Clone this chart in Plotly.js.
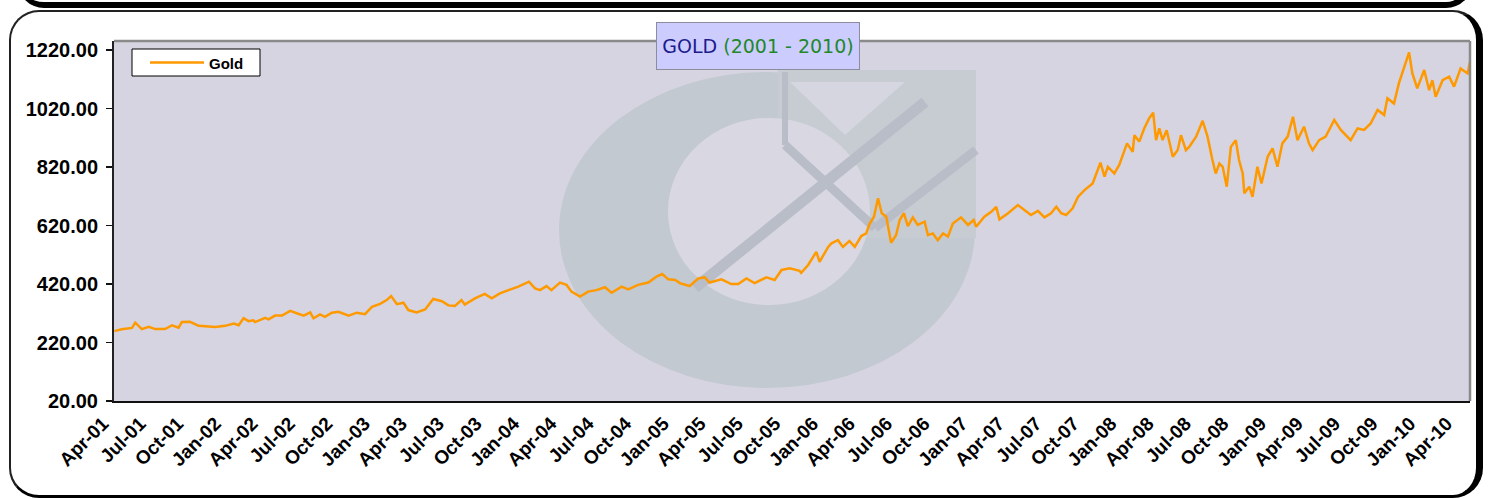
<!DOCTYPE html>
<html>
<head>
<meta charset="utf-8">
<script src="https://cdn.plot.ly/plotly-3.0.1.min.js"></script>
<style>
  html, body { margin:0; padding:0; background:#ffffff; width:1489px; height:499px; overflow:hidden; }
  #topbar { position:absolute; left:18px; top:-30px; width:1446px; height:30px; border:2px solid #111; border-bottom:6px solid #000; border-right:6px solid #000; border-radius:0 0 26px 26px; }
  #frame { position:absolute; left:9px; top:10px; width:1465px; height:483px; border:2px solid #222; border-right:7px solid #000; border-bottom:3px solid #000; border-radius:30px; }
  #chart { position:absolute; left:0; top:0; width:1489px; height:499px; }
</style>
</head>
<body>
<div id="topbar"></div>
<div id="frame"></div>
<div id="chart"></div>
<script>
// ---- data ----
const goldDates = [
"2001-04-02","2001-04-20","2001-05-15","2001-05-23","2001-06-08","2001-06-25","2001-07-11","2001-08-04","2001-08-21","2001-09-06",
"2001-09-14","2001-10-04","2001-10-25","2001-11-18","2001-12-05","2001-12-29",
"2002-01-19","2002-01-31","2002-02-12","2002-02-24","2002-03-08","2002-03-12","2002-04-06","2002-04-14","2002-04-30","2002-05-17",
"2002-06-06","2002-06-22","2002-07-09","2002-07-25","2002-08-02","2002-08-18","2002-08-30","2002-09-16","2002-10-02","2002-10-27",
"2002-11-16","2002-12-06","2002-12-23",
"2003-01-12","2003-01-28","2003-02-08","2003-02-22","2003-03-10","2003-03-22","2003-04-11","2003-05-02","2003-05-22","2003-06-12",
"2003-06-28","2003-07-14","2003-07-30","2003-08-07","2003-09-01","2003-09-25","2003-10-12","2003-11-01","2003-11-22","2003-12-16",
"2004-01-11","2004-01-26","2004-02-07","2004-02-23","2004-03-06","2004-03-27","2004-04-12","2004-04-24","2004-05-15","2004-06-04",
"2004-06-24","2004-07-15","2004-07-31","2004-08-25","2004-09-10","2004-10-04","2004-10-29","2004-11-18","2004-12-02","2004-12-17",
"2005-01-03","2005-01-14","2005-02-07","2005-02-28","2005-03-16","2005-03-28","2005-04-26","2005-05-20","2005-06-06","2005-06-26",
"2005-07-16","2005-08-14","2005-09-03","2005-09-20","2005-10-10","2005-11-03","2005-11-07","2005-11-24","2005-12-14","2005-12-22",
"2006-01-12","2006-01-20","2006-02-05","2006-02-17","2006-03-05","2006-03-18","2006-04-03","2006-04-15","2006-04-23","2006-05-04",
"2006-05-14","2006-05-23","2006-06-03","2006-06-15","2006-06-27","2006-07-06","2006-07-16","2006-07-26","2006-08-07","2006-08-19",
"2006-09-05","2006-09-13","2006-09-25","2006-10-07","2006-10-20","2006-11-01","2006-11-13","2006-12-03","2006-12-20",
"2007-01-03","2007-01-09","2007-01-29","2007-02-15","2007-02-27","2007-03-07","2007-03-28","2007-04-21","2007-05-07","2007-05-23",
"2007-06-09","2007-06-25","2007-07-11","2007-07-24","2007-08-05","2007-08-17","2007-09-02","2007-09-15","2007-10-01","2007-10-21",
"2007-11-09","2007-11-19","2007-11-27","2007-12-13","2007-12-25",
"2008-01-13","2008-01-27","2008-01-31","2008-02-12","2008-02-24","2008-03-07","2008-03-17","2008-03-24","2008-04-01","2008-04-09",
"2008-04-19","2008-05-04","2008-05-16","2008-05-24","2008-06-05","2008-06-13","2008-06-22","2008-06-30","2008-07-16","2008-07-28",
"2008-08-09","2008-08-17","2008-08-26","2008-09-03","2008-09-13","2008-09-23","2008-10-05","2008-10-13","2008-10-22","2008-10-26",
"2008-11-07","2008-11-15","2008-11-27","2008-12-07","2008-12-22",
"2009-01-03","2009-01-15","2009-01-27","2009-02-09","2009-02-17","2009-02-22","2009-03-05","2009-03-21","2009-04-02","2009-04-11",
"2009-04-27","2009-05-13","2009-06-03","2009-06-19","2009-07-13","2009-07-30","2009-08-15","2009-08-31","2009-09-17","2009-10-03",
"2009-10-11","2009-10-27","2009-11-08","2009-11-21","2009-12-03","2009-12-11","2009-12-23",
"2010-01-09","2010-01-21","2010-01-29","2010-02-06","2010-02-23","2010-03-11","2010-03-23","2010-04-08","2010-04-25","2010-05-01"
];
const goldPrices = [
259,265,270,288,266,274,266,266,279,271,
290,291,277,276,273,277,
285,279,303,293,296,290,304,299,312,312,
328,320,312,323,303,316,308,322,325,312,
322,317,342,
352,365,379,351,356,331,323,333,369,361,
347,345,365,350,371,386,371,388,399,411,
428,405,399,413,399,425,417,394,377,394,
399,409,390,411,402,417,425,445,454,436,
434,423,413,439,443,425,436,420,420,439,
423,443,434,468,474,465,458,485,530,496,
547,559,570,547,567,547,584,593,625,650,
713,662,650,561,587,639,662,618,648,622,
633,587,593,570,593,582,627,648,622,
639,616,650,667,684,641,662,690,673,656,
670,648,662,684,662,656,679,718,741,764,
835,787,821,798,827,
901,872,929,907,952,986,1006,912,952,912,
946,855,878,929,878,889,907,924,978,924,
844,798,832,821,753,889,912,844,798,730,
753,718,821,764,855,
884,821,901,924,964,992,912,958,901,878,
912,924,981,947,912,952,947,969,1015,998,
1055,1037,1106,1163,1212,1140,1089,
1152,1083,1117,1060,1117,1129,1095,1157,1140,1180
];
const seriesName = "Gold";
const yTickValues = [20, 220, 420, 620, 820, 1020, 1220];
const yTickLabels = ["20.00","220.00","420.00","620.00","820.00","1020.00","1220.00"];
const xTickDates = [
"2001-04-01","2001-07-01","2001-10-01","2002-01-01","2002-04-01","2002-07-01","2002-10-01","2003-01-01","2003-04-01","2003-07-01",
"2003-10-01","2004-01-01","2004-04-01","2004-07-01","2004-10-01","2005-01-01","2005-04-01","2005-07-01","2005-10-01","2006-01-01",
"2006-04-01","2006-07-01","2006-10-01","2007-01-01","2007-04-01","2007-07-01","2007-10-01","2008-01-01","2008-04-01","2008-07-01",
"2008-10-01","2009-01-01","2009-04-01","2009-07-01","2009-10-01","2010-01-01","2010-04-01"
];
const xTickLabels = [
"Apr-01","Jul-01","Oct-01","Jan-02","Apr-02","Jul-02","Oct-02","Jan-03","Apr-03","Jul-03",
"Oct-03","Jan-04","Apr-04","Jul-04","Oct-04","Jan-05","Apr-05","Jul-05","Oct-05","Jan-06",
"Apr-06","Jul-06","Oct-06","Jan-07","Apr-07","Jul-07","Oct-07","Jan-08","Apr-08","Jul-08",
"Oct-08","Jan-09","Apr-09","Jul-09","Oct-09","Jan-10","Apr-10"
];
const titleMain = "GOLD";
const titleSub = "(2001 - 2010)";

// ---- layout helpers (pixel -> paper) ----
const L = 114, R = 1470, T = 41, B = 401;
const px = x => (x - L) / (R - L);
const py = y => (B - y) / (B - T);
const FONT = 'Liberation Sans, Arial, sans-serif';
const ORANGE = '#FF9900';

const wmRing = 'rgb(195,201,209)';
const wmHole = 'rgb(217,216,226)';
const wmDark = 'rgb(184,189,199)';
const P = {xref:'paper', yref:'paper'};
const shapes = [
  // watermark logo
  {...P, type:'circle', layer:'below', x0:px(559), x1:px(975), y0:py(388), y1:py(72), fillcolor:wmRing, line:{width:0}},
  {...P, type:'rect', layer:'below', x0:px(778), x1:px(976), y0:py(238), y1:py(70), fillcolor:'rgb(199,204,211)', line:{width:0}},
  {...P, type:'circle', layer:'below', x0:px(668), x1:px(870), y0:py(305), y1:py(118), fillcolor:wmHole, line:{width:0}},
  {...P, type:'path', layer:'below',
    path:`M${px(790)},${py(82)} L${px(905)},${py(82)} L${px(845)},${py(135)} Z`, fillcolor:'rgb(214,214,224)', line:{width:0}},
  {...P, type:'line', layer:'below', x0:px(695), y0:py(288), x1:px(925), y1:py(102), line:{color:wmDark, width:11}},
  {...P, type:'line', layer:'below', x0:px(785), y0:py(145), x1:px(875), y1:py(228), line:{color:wmDark, width:9}},
  {...P, type:'line', layer:'below', x0:px(875), y0:py(228), x1:px(976), y1:py(150), line:{color:wmDark, width:9}},
  {...P, type:'line', layer:'below', x0:px(785), y0:py(145), x1:px(785), y1:py(72), line:{color:wmDark, width:6}},
  // plot frame: top & right grey edges
  {...P, type:'line', x0:0, y0:1, x1:1, y1:1, line:{color:'#8a8a8a', width:2.5}},
  {...P, type:'line', x0:1, y0:0, x1:1, y1:1, line:{color:'#8a8a8a', width:2.5}},
  // legend box + sample line
  {...P, type:'rect', x0:px(132), x1:px(260), y0:py(76), y1:py(49), fillcolor:'#ffffff', line:{color:'#000', width:1}},
  {...P, type:'line', x0:px(150), x1:px(204), y0:py(62.5), y1:py(62.5), line:{color:ORANGE, width:2.5}}
];

const trace = {
  type:'scatter', mode:'lines', name:seriesName,
  x: goldDates, y: goldPrices,
  line:{color:ORANGE, width:2.5}
};

const layout = {
  width:1489, height:499,
  margin:{l:L, r:1489-R, t:T, b:499-B, pad:0},
  paper_bgcolor:'rgba(0,0,0,0)',
  plot_bgcolor:'rgb(214,212,224)',
  showlegend:false,
  xaxis:{type:'date', range:['2001-04-01','2010-05-01'], tickmode:'array', tickvals:xTickDates, ticktext:xTickLabels,
         tickangle:-45, ticks:'', showgrid:false, zeroline:false, showline:true, linecolor:'#111', linewidth:2,
         tickfont:{family:FONT, size:19, color:'#000', weight:'bold'}, automargin:false, ticklabelstandoff:2, ticklabelshift:-11},
  yaxis:{range:[20,1251], tickmode:'array', tickvals:yTickValues, ticktext:yTickLabels,
         ticks:'outside', ticklen:6, tickwidth:1.5, tickcolor:'#111', showgrid:false, zeroline:false, showline:true, linecolor:'#222', linewidth:2,
         tickfont:{family:FONT, size:20, color:'#000', weight:'bold'}, automargin:false, ticklabelstandoff:4},
  shapes: shapes,
  annotations:[{
    ...P, x:px(758), y:py(46), xanchor:'center', yanchor:'middle', showarrow:false,
    text:`<span style='color:#1c1c8c'>${titleMain}</span> <span style='color:#22882a'>${titleSub}</span>`,
    font:{family:'DejaVu Sans, Verdana, sans-serif', size:19},
    bgcolor:'#CCCCFF', bordercolor:'#8c8c9c', borderwidth:1, width:200, height:44, borderpad:1
  },{
    ...P, x:px(207), y:py(63), xanchor:'left', yanchor:'middle', showarrow:false,
    text:seriesName, font:{family:FONT, size:15, color:'#000', weight:'bold'}
  }]
};

Plotly.newPlot('chart', [trace], layout, {displayModeBar:false, staticPlot:true});
</script>
</body>
</html>
